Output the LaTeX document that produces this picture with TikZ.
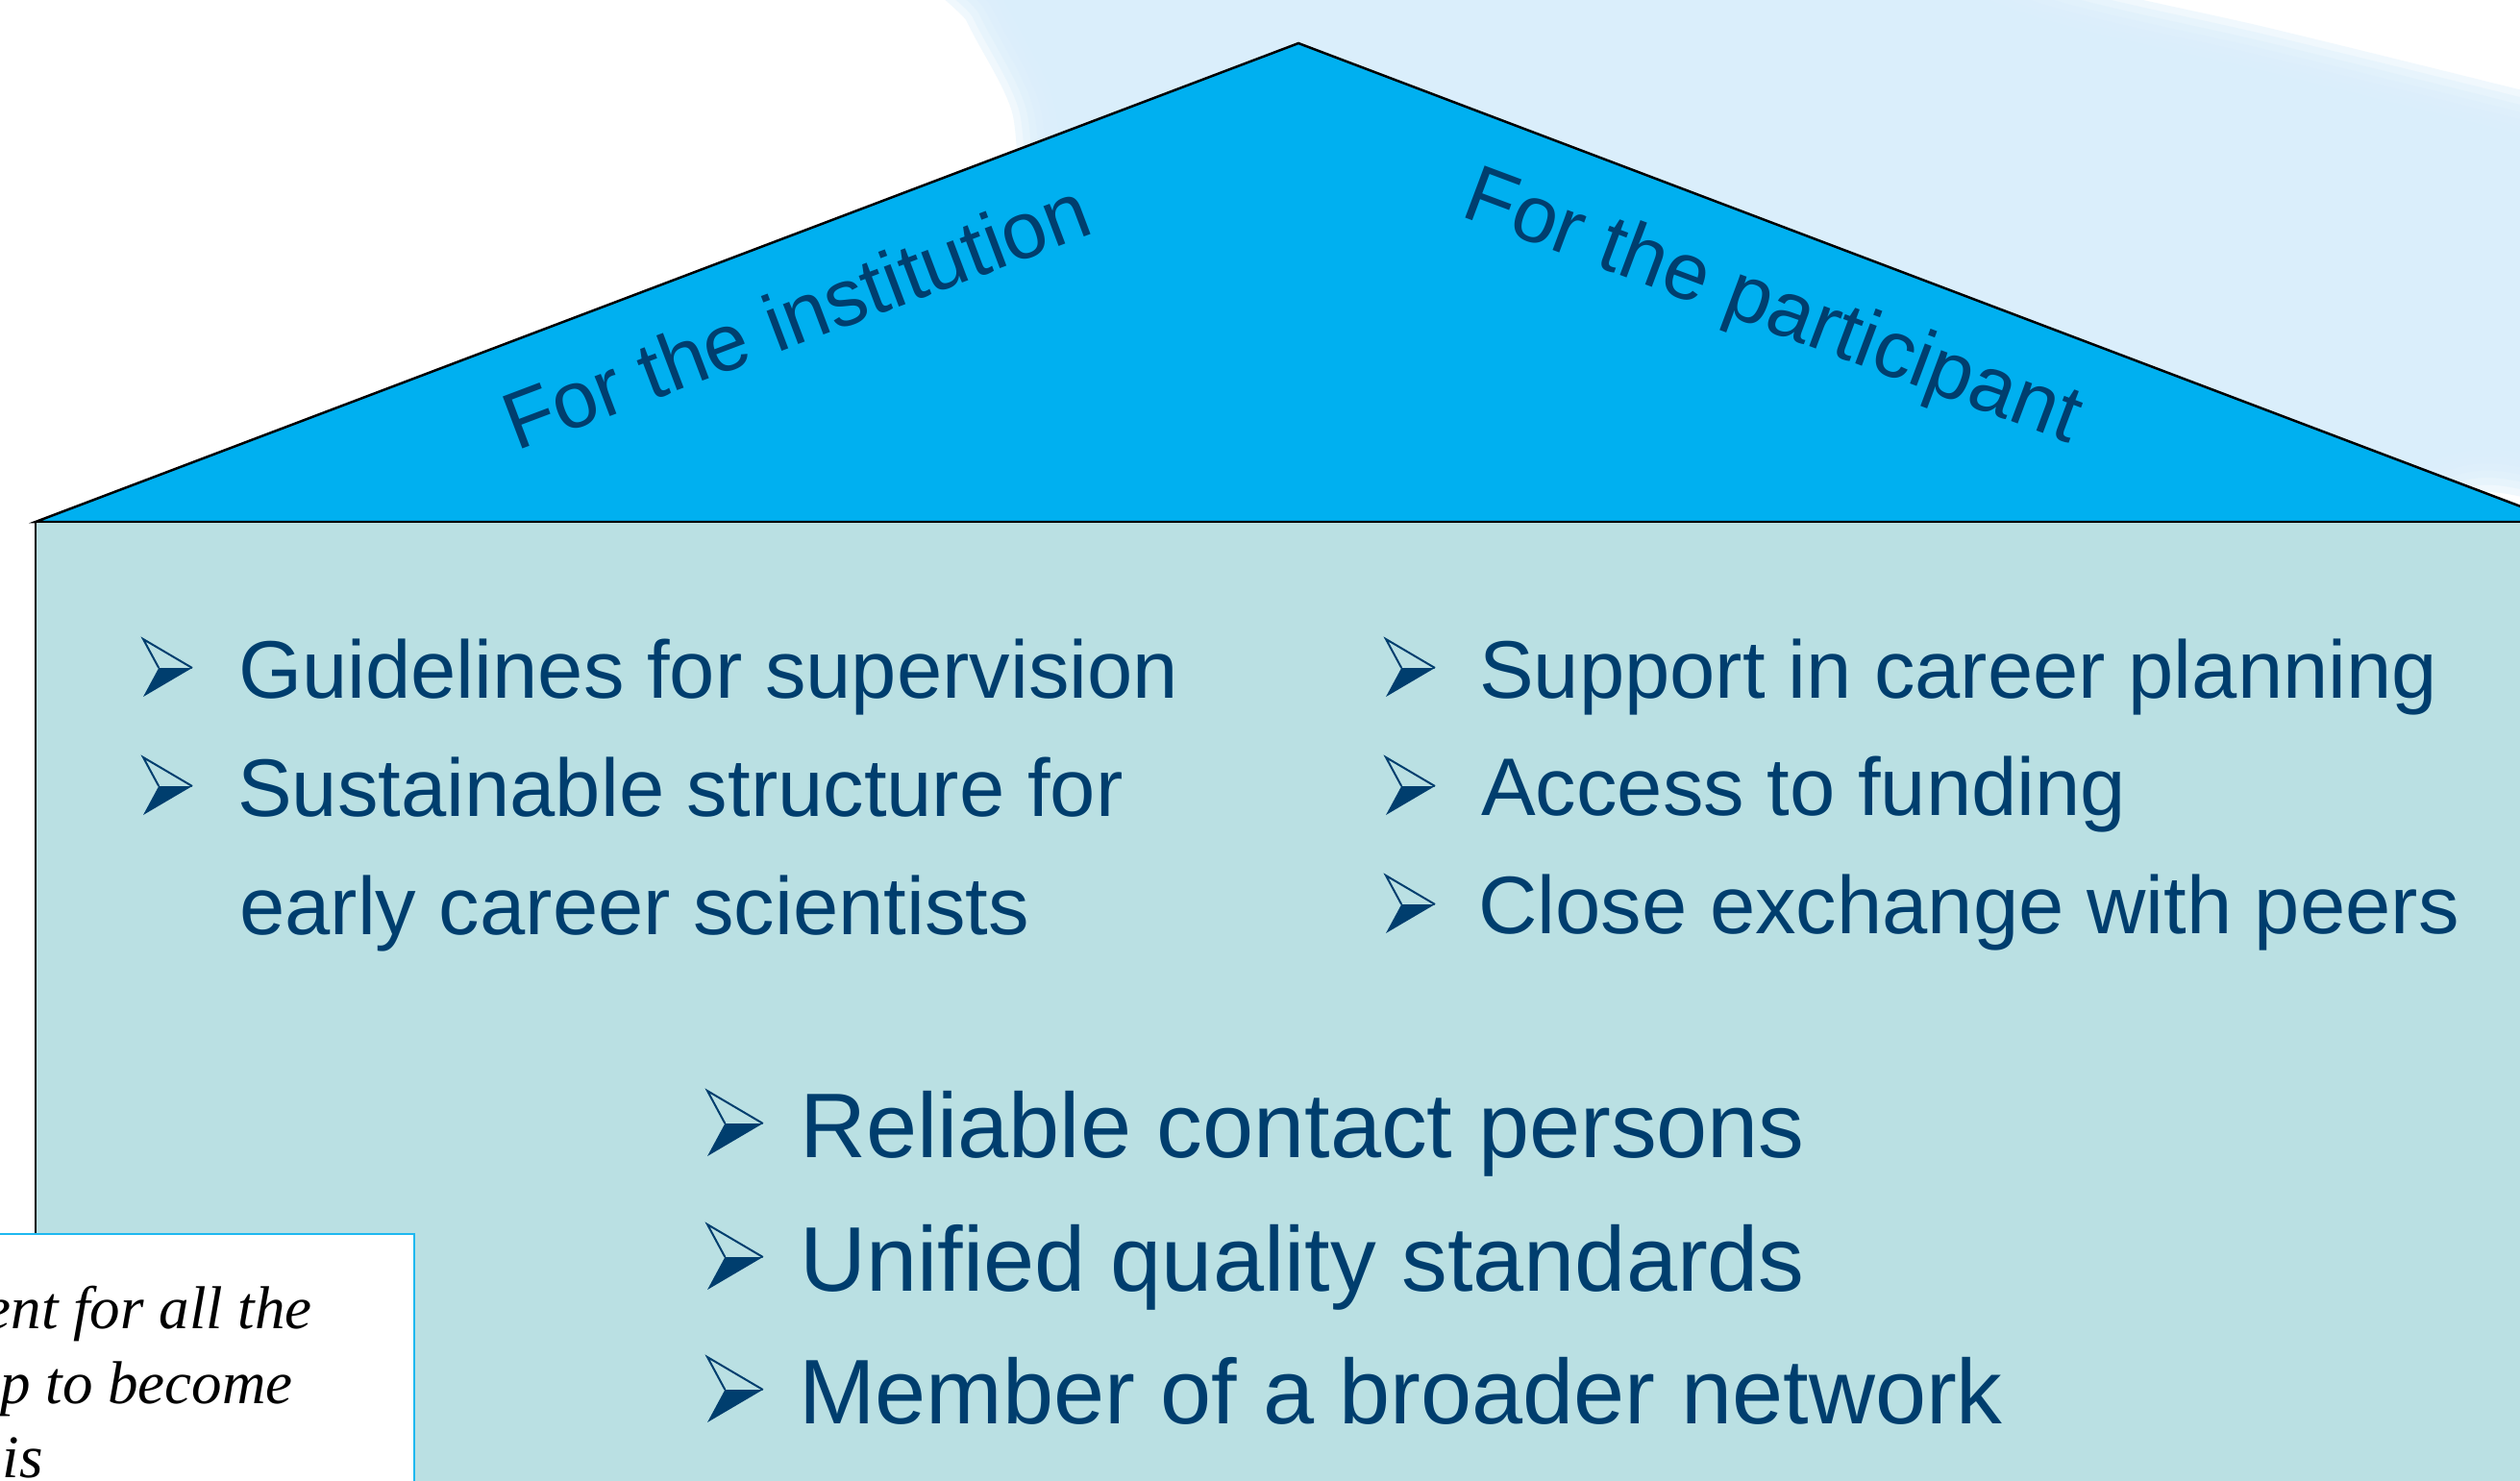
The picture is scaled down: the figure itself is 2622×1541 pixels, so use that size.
\documentclass[tikz,border=0pt]{standalone}
\usepackage{fontspec}
\setmainfont{Liberation Sans}
\newfontfamily\serifit{Liberation Serif}
\definecolor{roofblue}{RGB}{0,176,240}
\definecolor{bodyteal}{RGB}{186,224,227}
\definecolor{navy}{RGB}{0,62,110}
\definecolor{bandblue}{RGB}{218,238,251}
\definecolor{boxcyan}{RGB}{30,184,240}
\tikzset{
  bigtxt/.style={anchor=base west, inner sep=0pt, text=navy, font=\fontsize{85}{100}\selectfont},
  hugetxt/.style={anchor=base west, inner sep=0pt, text=navy, font=\fontsize{95.5}{110}\selectfont},
  rooftxt/.style={anchor=base, inner sep=0pt, text=navy, font=\fontsize{84}{100}\selectfont},
  notetxt/.style={anchor=base east, inner sep=0pt, text=black, font=\serifit\itshape\fontsize{63}{75}\selectfont},
  outline/.style={line width=2.5pt, draw=black},
}
\newcommand\arrowbul[3]{%
  \fill[navy] (#1+0.27*#3, #2-0.5*#3) -- (#1+0.85*#3, #2-0.5*#3) -- (#1,#2) -- cycle;
  \draw[navy, line width=2pt] (#1+0.27*#3, #2-0.5*#3) -- (#1,#2-#3) -- (#1+0.85*#3,#2-0.5*#3);
}
\begin{document}
\begin{tikzpicture}[x=1pt,y=-1pt]
\useasboundingbox (0,0) rectangle (2622,1541);
\clip (0,0) rectangle (2622,1541);
\fill[white] (0,0) rectangle (2622,1541);
% light blue background band with soft edges
\foreach \w in {90,75,60,45,30,15,0} {
  \path[fill=bandblue, draw=bandblue, line width=\w pt, fill opacity=0.4, draw opacity=0.4, line join=round]
    plot[smooth cycle, tension=0.55] coordinates {
      (1000,-100) (1045,0) (1095,100) (1115,220) (1200,420) (1600,600)
      (2300,560) (2560,470) (2700,470) (2760,300) (2700,160) (2615,138)
      (2355,74) (2125,20) (1900,-60) (1500,-120)};
}
% house
\draw[outline, fill=roofblue, line join=miter] (37,543) -- (1351,45) -- (2665,543) -- cycle;
\draw[outline, fill=bodyteal] (37,543) rectangle (2720,1620);
% roof labels
\node[rooftxt, rotate=20.7] (inst) at (839,356) {For the institution};
\node[rooftxt, rotate=-20.5] (part) at (1836,343) {For the participant};
% left column
\arrowbul{149}{725}{60}
\node[bigtxt] (l1) at (248,726) {Guidelines for supervision};
\arrowbul{149}{848}{60}
\node[bigtxt] (l2) at (247,849) {Sustainable structure for};
\node[bigtxt] (l3) at (249,972) {early career scientists};
% right column
\arrowbul{1442}{725}{60}
\node[bigtxt] (r1) at (1539,726) {Support in career planning};
\arrowbul{1442}{848}{60}
\node[bigtxt] (r2) at (1541,848) {Access to funding};
\arrowbul{1442}{971}{60}
\node[bigtxt] (r3) at (1538,971) {Close exchange with peers};
% bottom
\arrowbul{736}{1203}{68}
\node[hugetxt] (b1) at (832,1204) {Reliable contact persons};
\arrowbul{736}{1342}{68}
\node[hugetxt] (b2) at (832,1343) {Unified quality standards};
\arrowbul{736}{1480}{68}
\node[hugetxt] (b3) at (831,1481) {Member of a broader network};
% note box
\draw[boxcyan, fill=white, line width=2pt] (-10,1284) rectangle (431,1620);
\node[notetxt] (n1) at (325,1382) {ent for all the};
\node[notetxt] (n2) at (305,1460) {p to become};
\node[notetxt] (n3) at (45,1537) {is};
\end{tikzpicture}
\end{document}
